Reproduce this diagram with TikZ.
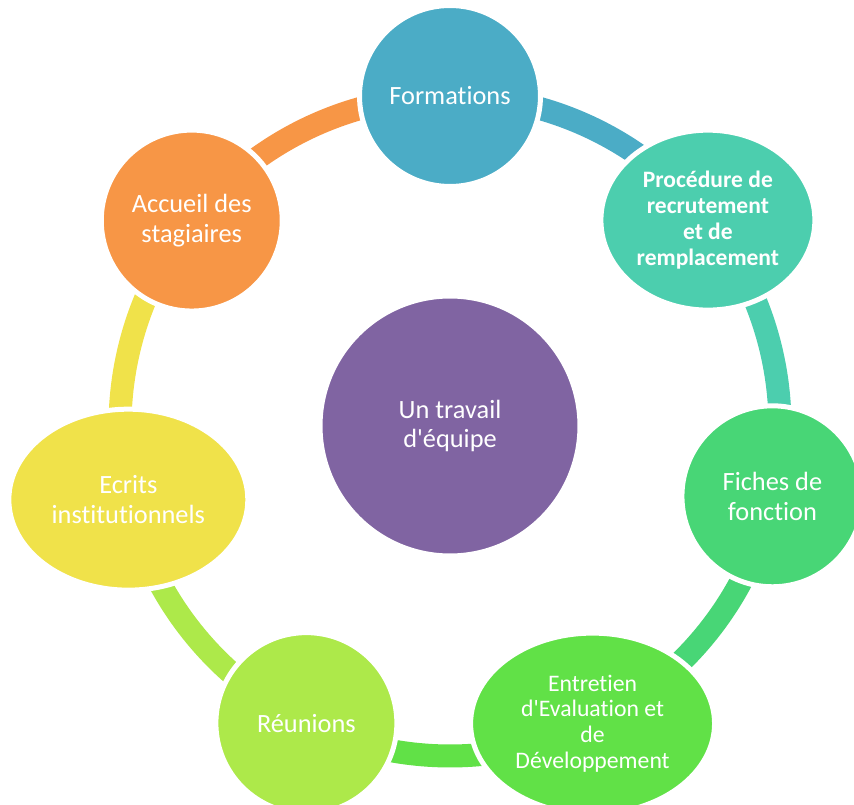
\documentclass[tikz,border=0pt]{standalone}
\usepackage{fontspec}
\setmainfont{Carlito}[Ligatures={TeXOff,CommonOff}]
\usetikzlibrary{shapes.geometric,backgrounds}

\definecolor{formblue}{RGB}{75,172,198}
\definecolor{proccyan}{RGB}{76,206,174}
\definecolor{fichgreen}{RGB}{72,214,118}
\definecolor{entrgreen}{RGB}{97,225,71}
\definecolor{reunlime}{RGB}{173,233,74}
\definecolor{ecriyellow}{RGB}{240,226,74}
\definecolor{accorange}{RGB}{247,150,70}
\definecolor{teampurple}{RGB}{128,100,162}

\tikzset{
  bubble/.style={circle,fill=#1,draw=white,line width=0.1cm,inner sep=0pt,
    minimum size=3.62cm,text=white,align=center,font=\fontsize{15}{17}\selectfont},
  oval/.style={ellipse,fill=#1,draw=white,line width=0.1cm,inner sep=0pt,
    minimum height=3.62cm,text=white,align=center,font=\fontsize{15}{17}\selectfont},
  band/.style={draw=#1,line width=0.46cm}
}

\begin{document}
\begin{tikzpicture}[x=0.02cm,y=0.02cm]
                \useasboundingbox (-450,-378) rectangle (404,426);
                \node[bubble=teampurple,minimum size=5.2cm] (team) at (0,0) {Un travail\\d'équipe};
                \node[bubble=formblue] (form) at (90:330) {Formations};
                \node[oval=proccyan,minimum width=4.28cm,minimum height=3.6cm,
                  font=\bfseries\fontsize{13.4}{14.7}\selectfont] (proc) at (38.6:330) {Procédure de\\recrutement\\et de\\remplacement};
                \node[bubble=fichgreen] (fich) at (-12.3:330) {Fiches de\\fonction};
                \node[oval=entrgreen,minimum width=4.88cm,
                  font=\fontsize{13.5}{14.7}\selectfont] (entr) at (-64.4:330) {Entretien\\d'Evaluation et\\de\\Développement};
                \node[bubble=reunlime] (reun) at (-115.8:330) {Réunions};
                \node[oval=ecriyellow,minimum width=4.78cm] (ecri) at (-167.1:330) {Ecrits\\institutionnels};
                \node[bubble=accorange] (accu) at (141.5:330) {Accueil des\\stagiaires};
                % ring pieces behind the bubbles
                \begin{scope}[on background layer]
                \draw[band=formblue] (form.center) arc[start angle=90,end angle=38.6,radius=330];
                \draw[band=proccyan] (proc.center) arc[start angle=38.6,end angle=-12.3,radius=330];
                \draw[band=fichgreen] (fich.center) arc[start angle=-12.3,end angle=-64.4,radius=330];
                \draw[band=entrgreen] (entr.center) arc[start angle=-64.4,end angle=-115.8,radius=330];
                \draw[band=reunlime] (reun.center) arc[start angle=-115.8,end angle=-167.1,radius=330];
                \draw[band=ecriyellow] (ecri.center) arc[start angle=192.9,end angle=141.5,radius=330];
                \draw[band=accorange] (accu.center) arc[start angle=141.5,end angle=90,radius=330];
                \end{scope}
\end{tikzpicture}
\end{document}
